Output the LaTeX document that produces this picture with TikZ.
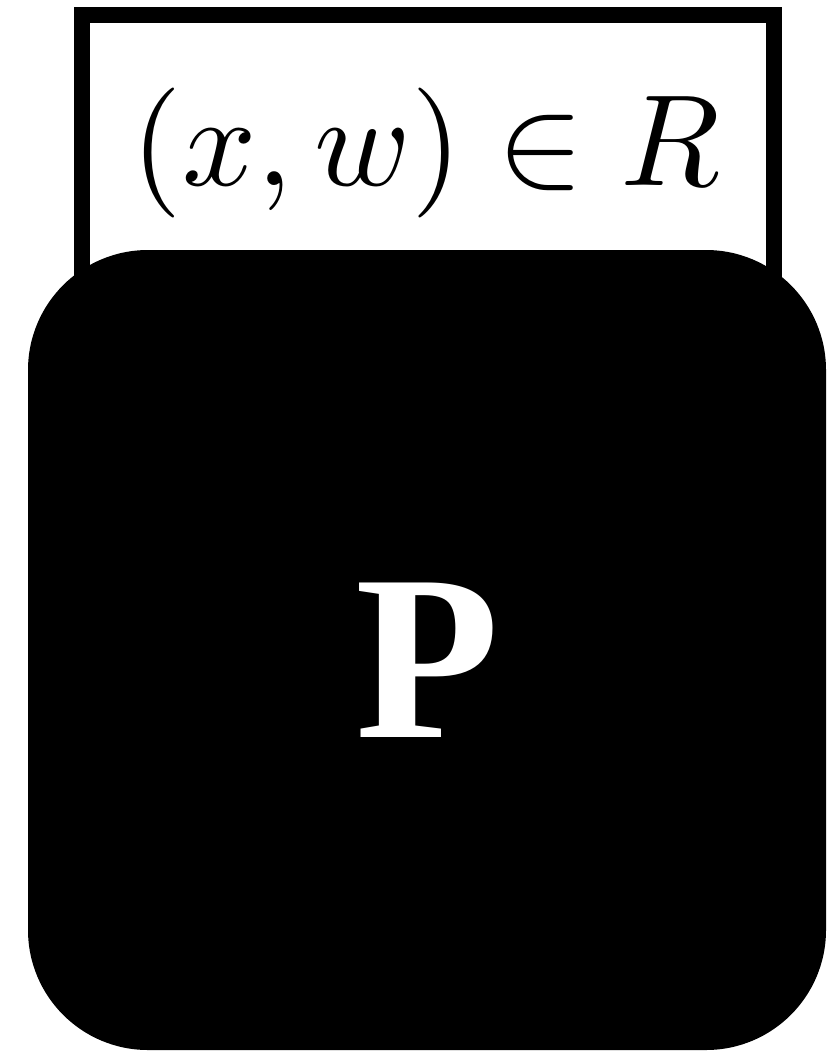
\documentclass[tikz,border=0pt]{standalone}
\usepackage{fontspec}
\setmainfont{Liberation Serif}
\begin{document}
\begin{tikzpicture}[x=1pt,y=-1pt,
  framebox/.style={draw=black,line width=16pt,fill=white},
  blackbox/.style={fill=black,rounded corners=120pt},
  lbl/.style={inner sep=0pt,anchor=base},
  plbl/.style={font=\fontsize{236}{236}\selectfont\bfseries,text=white,inner sep=0pt,anchor=base}]
\useasboundingbox (0,0) rectangle (827,1052);
\draw[framebox] (81.5,15) rectangle (774,320);
\fill[blackbox] (28,250) rectangle (826,1050);
\node[lbl] (rel) at (426,185) {\scalebox{13}{$(x, w) \in R$}};
\node[plbl] (prover) at (428,737) {P};
\end{tikzpicture}
\end{document}
